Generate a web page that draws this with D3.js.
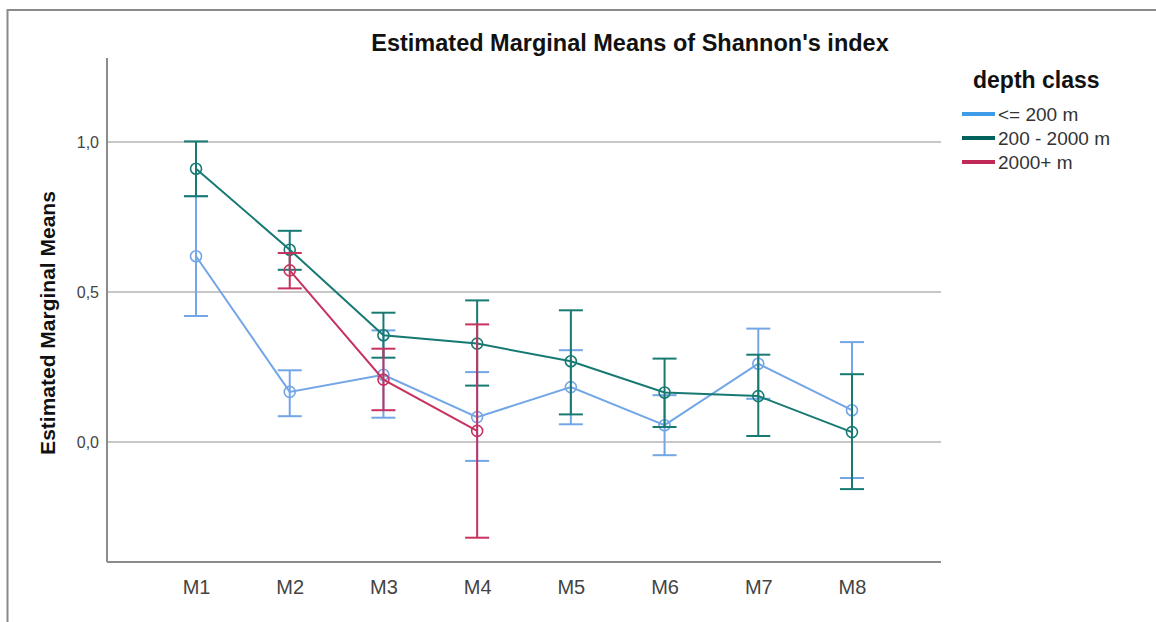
<!DOCTYPE html>
<html>
<head>
<meta charset="utf-8">
<script src="https://cdn.jsdelivr.net/npm/d3@7"></script>
<style>
  html, body { margin: 0; padding: 0; background: #fff; }
  svg { display: block; font-family: "Liberation Sans", Arial, sans-serif; }
</style>
</head>
<body>
<svg id="chart" width="1156" height="622"></svg>
<script>
// ---- data ----
const categories = ["M1", "M2", "M3", "M4", "M5", "M6", "M7", "M8"];
const yTicks = [0, 0.5, 1.0];
const seriesNames = ["<= 200 m", "200 - 2000 m", "2000+ m"];

const shallowMean  = [0.619, 0.167, 0.224, 0.083, 0.183, 0.056, 0.261, 0.106];
const shallowLower = [0.420, 0.086, 0.081, -0.063, 0.059, -0.044, 0.144, -0.120];
const shallowUpper = [0.820, 0.239, 0.372, 0.233, 0.306, 0.156, 0.378, 0.333];

const midMean  = [0.911, 0.641, 0.356, 0.328, 0.269, 0.165, 0.153, 0.033];
const midLower = [0.819, 0.574, 0.281, 0.188, 0.092, 0.050, 0.020, -0.157];
const midUpper = [1.002, 0.704, 0.431, 0.472, 0.439, 0.278, 0.291, 0.226];

const deepMean  = [null, 0.572, 0.208, 0.037, null, null, null, null];
const deepLower = [null, 0.512, 0.106, -0.319, null, null, null, null];
const deepUpper = [null, 0.630, 0.311, 0.392, null, null, null, null];

// ---- styling ----
const lineColors   = ["#72a6e6", "#167a73", "#c7325e"];
const legendColors = ["#3d9be8", "#00625b", "#c02855"];

const series = [
  { name: seriesNames[0], mean: shallowMean, lower: shallowLower, upper: shallowUpper, color: lineColors[0] },
  { name: seriesNames[1], mean: midMean, lower: midLower, upper: midUpper, color: lineColors[1] },
  { name: seriesNames[2], mean: deepMean, lower: deepLower, upper: deepUpper, color: lineColors[2] }
];

const svg = d3.select("#chart");

// outer frame (only top & left visible in the reference)
svg.append("rect")
  .attr("x", 7.5).attr("y", 10)
  .attr("width", 1300).attr("height", 800)
  .attr("fill", "none").attr("stroke", "#8a8a8a").attr("stroke-width", 2);

const pL = 107, pR = 941, pT = 58, pB = 562;

const x = d3.scalePoint().domain(categories).range([pL, pR]).padding(0.95);
const y = d3.scaleLinear().domain([-0.4, 1.28]).range([pB, pT]);

// gridlines
svg.append("g").selectAll("line").data(yTicks).join("line")
  .attr("x1", pL).attr("x2", pR)
  .attr("y1", d => y(d)).attr("y2", d => y(d))
  .attr("stroke", "#b4b4b4").attr("stroke-width", 1.6);

// y axis
const fmt = d => d3.format(".1f")(d).replace(".", ",");
const yAxis = svg.append("g").attr("transform", `translate(${pL},0)`)
  .call(d3.axisLeft(y).tickValues(yTicks).tickFormat(fmt).tickSize(0).tickPadding(8));
yAxis.select(".domain").attr("stroke", "#8c8c8c").attr("stroke-width", 2)
  .attr("d", `M0,${pT}V${pB}`);
yAxis.selectAll("text").attr("font-size", 16).attr("fill", "#444")
  .attr("font-family", "Liberation Sans, Arial, sans-serif");

// x axis
const xAxis = svg.append("g").attr("transform", `translate(0,${pB})`)
  .call(d3.axisBottom(x).tickSize(0).tickPadding(18));
xAxis.select(".domain").attr("stroke", "#8c8c8c").attr("stroke-width", 2)
  .attr("d", `M${pL},0H${pR}`);
xAxis.selectAll("text").attr("font-size", 20).attr("fill", "#444")
  .attr("font-family", "Liberation Sans, Arial, sans-serif");

// series
const capW = 12;
series.forEach(s => {
  const pts = categories.map((c, i) => ({ c, m: s.mean[i], lo: s.lower[i], hi: s.upper[i] }))
    .filter(p => p.m !== null);
  const g = svg.append("g");
  const eb = g.selectAll("g.eb").data(pts).join("g").attr("class", "eb");
  eb.append("line")
    .attr("x1", d => x(d.c)).attr("x2", d => x(d.c))
    .attr("y1", d => y(d.lo)).attr("y2", d => y(d.hi))
    .attr("stroke", s.color).attr("stroke-width", 2);
  eb.append("line")
    .attr("x1", d => x(d.c) - capW).attr("x2", d => x(d.c) + capW)
    .attr("y1", d => y(d.hi)).attr("y2", d => y(d.hi))
    .attr("stroke", s.color).attr("stroke-width", 2);
  eb.append("line")
    .attr("x1", d => x(d.c) - capW).attr("x2", d => x(d.c) + capW)
    .attr("y1", d => y(d.lo)).attr("y2", d => y(d.lo))
    .attr("stroke", s.color).attr("stroke-width", 2);
  g.append("path").datum(pts)
    .attr("d", d3.line().x(d => x(d.c)).y(d => y(d.m)))
    .attr("fill", "none").attr("stroke", s.color).attr("stroke-width", 2);
  g.selectAll("circle").data(pts).join("circle")
    .attr("cx", d => x(d.c)).attr("cy", d => y(d.m)).attr("r", 5.5)
    .attr("fill", "none").attr("stroke", s.color).attr("stroke-width", 1.6);
});

// title
svg.append("text")
  .attr("x", 630).attr("y", 51).attr("text-anchor", "middle")
  .attr("font-size", 23.5).attr("font-weight", "bold").attr("fill", "#111")
  .text("Estimated Marginal Means of Shannon's index");

// y title
svg.append("text")
  .attr("transform", "translate(55,323) rotate(-90)")
  .attr("text-anchor", "middle")
  .attr("font-size", 21).attr("font-weight", "bold").attr("fill", "#111")
  .text("Estimated Marginal Means");

// legend
const lg = svg.append("g");
lg.append("text").attr("x", 973).attr("y", 88)
  .attr("font-size", 23).attr("font-weight", "bold").attr("fill", "#111")
  .text("depth class");
const items = lg.selectAll("g.item").data(seriesNames).join("g").attr("class", "item")
  .attr("transform", (d, i) => `translate(0,${114 + i * 24})`);
items.append("line").attr("x1", 962).attr("x2", 995).attr("y1", 0).attr("y2", 0)
  .attr("stroke", (d, i) => legendColors[i]).attr("stroke-width", 4);
items.append("text").attr("x", 998).attr("y", 6.5)
  .attr("font-size", 19).attr("fill", "#333")
  .text(d => d);
</script>
</body>
</html>
